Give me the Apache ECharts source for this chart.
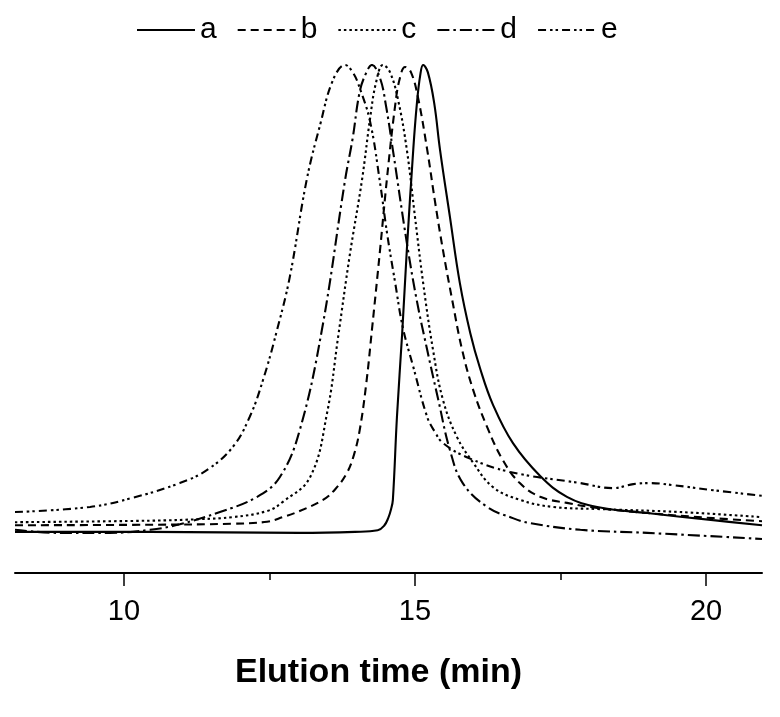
<!DOCTYPE html>
<html>
<head>
<meta charset="utf-8">
<script src="https://cdn.jsdelivr.net/npm/echarts@6/dist/echarts.min.js"></script>
<style>
  html, body { margin: 0; padding: 0; background: #fff; }
  #main { width: 780px; height: 717px; }
</style>
</head>
<body>
<div id="main"></div>
<script>
// elution time (min) / detector signal (peak = 100)
var aTime = [8.13, 10.45, 13.02, 13.97, 14.36, 14.47, 14.54, 14.59, 14.62, 14.69, 14.78, 14.86, 14.97, 15.03, 15.09, 15.14, 15.22, 15.33, 15.43, 15.60, 15.77, 15.95, 16.12, 16.34, 16.68, 17.15, 17.61, 18.13, 18.99, 20.12, 20.96];
var aSignal = [8.1, 8.1, 7.9, 8.1, 8.4, 9.3, 10.8, 12.6, 14.4, 30.7, 47.2, 63.6, 83.3, 92.1, 98.0, 100, 98.6, 92.5, 83.3, 70.1, 57.1, 47.2, 40.2, 33.1, 25.6, 19.1, 15.0, 13.0, 11.8, 10.4, 9.4];

var bTime = [8.13, 10.45, 11.87, 12.46, 12.73, 13.02, 13.42, 13.63, 13.83, 13.95, 14.05, 14.16, 14.26, 14.40, 14.52, 14.66, 14.74, 14.83, 14.93, 15.05, 15.21, 15.34, 15.48, 15.64, 15.81, 16.0, 16.24, 16.51, 16.80, 17.15, 17.61, 18.13, 18.99, 20.12, 20.96];
var bSignal = [9.4, 9.5, 9.7, 10.1, 11.0, 12.2, 14.4, 16.5, 19.7, 23.2, 28.1, 37.0, 47.8, 63.6, 77.8, 92.1, 97.4, 99.6, 98.6, 93.7, 83.3, 73.4, 63.6, 53.7, 43.9, 36.0, 28.7, 22.2, 17.7, 15.0, 13.8, 12.8, 11.8, 10.8, 10.2];

var cTime = [8.13, 10.45, 11.31, 11.87, 12.46, 12.73, 13.20, 13.49, 13.68, 13.88, 14.09, 14.23, 14.33, 14.45, 14.57, 14.71, 14.86, 15.0, 15.14, 15.31, 15.48, 15.72, 16.0, 16.34, 16.80, 17.37, 18.13, 19.55, 20.96];
var cSignal = [10.0, 10.3, 10.6, 11.0, 12.2, 14.0, 18.9, 31.5, 46.5, 62.6, 77.4, 89.6, 96.5, 100, 98.6, 93.1, 83.3, 70.1, 57.1, 43.9, 34.1, 26.8, 21.7, 16.9, 14.4, 13.0, 12.6, 12.0, 11.0];

var dTime = [8.13, 8.90, 9.76, 10.45, 10.96, 11.65, 12.29, 12.68, 13.02, 13.40, 13.80, 13.93, 14.05, 14.16, 14.26, 14.40, 14.50, 14.62, 14.86, 15.03, 15.21, 15.40, 15.60, 15.82, 16.24, 16.68, 16.98, 17.84, 18.99, 20.96];
var dSignal = [8.5, 7.9, 7.9, 8.5, 9.6, 12.0, 15.0, 18.9, 28.1, 47.8, 77.4, 85.6, 94.7, 98.4, 100, 97.4, 92.1, 83.3, 65.0, 53.7, 43.9, 34.1, 24.2, 17.7, 13.0, 10.8, 9.8, 8.5, 7.9, 6.7];

var eTime = [8.13, 9.42, 10.15, 10.96, 11.43, 11.87, 12.16, 12.39, 12.63, 12.85, 13.14, 13.37, 13.59, 13.80, 13.93, 14.05, 14.23, 14.40, 14.52, 14.66, 14.79, 14.97, 15.21, 15.34, 15.48, 15.89, 16.63, 17.84, 18.40, 18.75, 19.04, 19.43, 20.12, 20.96];
var eSignal = [12.0, 13.0, 14.8, 17.7, 20.3, 24.8, 30.7, 38.0, 47.8, 58.3, 77.4, 88.2, 97.0, 100, 98.6, 95.5, 88.8, 76.8, 66.9, 57.1, 48.4, 40.6, 30.7, 27.8, 25.6, 22.8, 19.9, 17.7, 16.7, 17.5, 17.7, 17.3, 16.3, 15.2];

var names = ['a', 'b', 'c', 'd', 'e'];
var majorTicks = [10, 15, 20];
var minorTicks = [12.5, 17.5];

function pairs(t, v) {
  return t.map(function (x, i) { return [x, v[i]]; });
}

var myChart = echarts.init(document.getElementById('main'));
var FONT = 'Liberation Sans, Arial, sans-serif';

function mkSeries(name, t, v, dash) {
  return {
    name: name,
    type: 'line',
    data: pairs(t, v),
    symbol: 'none',
    smooth: 0.4,
    silent: true,
    lineStyle: { color: '#000', width: 2.1, type: dash, cap: 'butt' },
    itemStyle: { color: '#000' }
  };
}

var option = {
  backgroundColor: '#fff',
  animation: false,
  legend: {
    data: names,
    left: 136,
    top: 15,
    padding: 0,
    itemWidth: 58,
    itemHeight: 14,
    itemGap: 20,
    itemStyle: { opacity: 0 },
    textStyle: { fontSize: 30, color: '#000', fontFamily: FONT }
  },
  grid: {
    left: 15,
    right: 18,
    top: 65,
    bottom: 144,
    outerBoundsMode: 'none'
  },
  xAxis: [{
    type: 'value',
    min: 8.13,
    max: 20.96,
    name: 'Elution time (min)',
    nameLocation: 'middle',
    nameGap: 83,
    nameTextStyle: {
      fontSize: 34, fontWeight: 'bold', color: '#000', fontFamily: FONT,
      padding: [0, 20, 0, 0]
    },
    axisLine: { show: true, onZero: false, lineStyle: { color: '#000', width: 2 } },
    axisTick: { show: true, customValues: majorTicks, length: 13, lineStyle: { color: '#000', width: 1.5 } },
    axisLabel: { show: true, customValues: majorTicks, margin: 24, fontSize: 29, color: '#000', fontFamily: FONT },
    splitLine: { show: false }
  }, {
    type: 'value',
    min: 8.13,
    max: 20.96,
    position: 'bottom',
    axisLine: { show: false },
    axisTick: { show: true, customValues: minorTicks, length: 7, lineStyle: { color: '#000', width: 1.5 } },
    axisLabel: { show: false },
    splitLine: { show: false }
  }],
  yAxis: {
    type: 'value',
    min: 0,
    max: 100,
    show: false
  },
  series: [
    mkSeries('a', aTime, aSignal, 'solid'),
    mkSeries('b', bTime, bSignal, [8, 5]),
    mkSeries('c', cTime, cSignal, [2.5, 3]),
    mkSeries('d', dTime, dSignal, [12, 4, 2.5, 4]),
    mkSeries('e', eTime, eSignal, [8, 4, 2.5, 3, 2.5, 4])
  ]
};
myChart.setOption(option);
</script>
</body>
</html>
